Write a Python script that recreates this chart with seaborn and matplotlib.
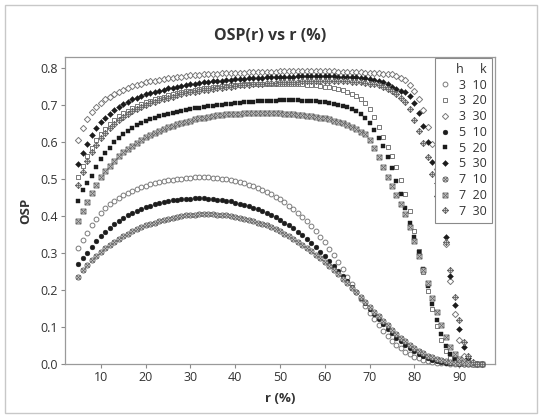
import pandas as pd
import matplotlib
matplotlib.use('Agg')
import matplotlib.pyplot as plt
import seaborn as sns
from matplotlib.path import Path
from matplotlib.lines import Line2D
from matplotlib.patches import Rectangle

sns.set_style('white')
plt.rcParams['font.family'] = ['Open Sans', 'DejaVu Sans']

# r (%) from 5 to 95
r = list(range(5, 96))

# OSP values, one list per (h, k)
osp_h3_k10 = [0.313, 0.335, 0.354, 0.376, 0.393, 0.408, 0.421, 0.432, 0.442, 0.450,
              0.457, 0.463, 0.469, 0.474, 0.479, 0.483, 0.487, 0.490, 0.493, 0.495,
              0.497, 0.499, 0.501, 0.502, 0.503, 0.504, 0.505, 0.505, 0.505, 0.505,
              0.504, 0.503, 0.502, 0.500, 0.498, 0.495, 0.492, 0.489, 0.485, 0.481,
              0.477, 0.472, 0.466, 0.460, 0.453, 0.446, 0.438, 0.429, 0.420, 0.410,
              0.399, 0.387, 0.374, 0.360, 0.345, 0.329, 0.312, 0.294, 0.275, 0.256,
              0.236, 0.216, 0.196, 0.176, 0.157, 0.139, 0.121, 0.105, 0.090, 0.076,
              0.063, 0.052, 0.042, 0.033, 0.026, 0.020, 0.015, 0.011, 0.008, 0.006,
              0.004, 0.003, 0.002, 0.001, 0.001, 0.001, 0.000, 0.000, 0.000, 0.000,
              0.000]
osp_h3_k20 = [0.507, 0.537, 0.562, 0.585, 0.605, 0.623, 0.637, 0.650, 0.661, 0.670,
              0.679, 0.686, 0.693, 0.699, 0.704, 0.709, 0.713, 0.717, 0.721, 0.724,
              0.727, 0.730, 0.733, 0.736, 0.738, 0.740, 0.742, 0.744, 0.746, 0.748,
              0.749, 0.750, 0.752, 0.753, 0.754, 0.755, 0.756, 0.757, 0.757, 0.758,
              0.758, 0.759, 0.759, 0.759, 0.759, 0.759, 0.759, 0.758, 0.758, 0.757,
              0.757, 0.756, 0.755, 0.754, 0.753, 0.751, 0.749, 0.747, 0.744, 0.741,
              0.737, 0.732, 0.726, 0.718, 0.706, 0.690, 0.668, 0.642, 0.614, 0.588,
              0.562, 0.532, 0.498, 0.460, 0.413, 0.360, 0.305, 0.250, 0.198, 0.150,
              0.104, 0.064, 0.035, 0.017, 0.007, 0.003, 0.001, 0.000, 0.000, 0.000,
              0.000]
osp_h3_k30 = [0.606, 0.639, 0.663, 0.681, 0.695, 0.706, 0.716, 0.724, 0.731, 0.737,
              0.743, 0.748, 0.752, 0.756, 0.759, 0.762, 0.765, 0.767, 0.769, 0.771,
              0.773, 0.775, 0.776, 0.778, 0.779, 0.781, 0.782, 0.783, 0.784, 0.785,
              0.785, 0.786, 0.787, 0.787, 0.788, 0.788, 0.789, 0.789, 0.790, 0.790,
              0.790, 0.791, 0.791, 0.791, 0.791, 0.792, 0.792, 0.792, 0.792, 0.792,
              0.792, 0.792, 0.792, 0.792, 0.792, 0.792, 0.792, 0.792, 0.791, 0.791,
              0.791, 0.791, 0.790, 0.790, 0.789, 0.788, 0.788, 0.787, 0.786, 0.785,
              0.784, 0.780, 0.775, 0.768, 0.756, 0.738, 0.716, 0.688, 0.642, 0.596,
              0.527, 0.430, 0.325, 0.225, 0.134, 0.065, 0.022, 0.007, 0.002, 0.001,
              0.000]
osp_h5_k10 = [0.271, 0.286, 0.301, 0.318, 0.332, 0.346, 0.358, 0.369, 0.379, 0.388,
              0.396, 0.403, 0.409, 0.415, 0.420, 0.425, 0.429, 0.433, 0.436, 0.439,
              0.441, 0.443, 0.445, 0.446, 0.447, 0.447, 0.448, 0.448, 0.448, 0.447,
              0.446, 0.445, 0.444, 0.442, 0.440, 0.437, 0.434, 0.431, 0.427, 0.423,
              0.419, 0.414, 0.409, 0.403, 0.397, 0.390, 0.383, 0.375, 0.367, 0.358,
              0.348, 0.338, 0.327, 0.316, 0.304, 0.292, 0.279, 0.266, 0.252, 0.238,
              0.224, 0.209, 0.194, 0.179, 0.164, 0.149, 0.135, 0.121, 0.108, 0.095,
              0.083, 0.071, 0.061, 0.051, 0.042, 0.034, 0.027, 0.021, 0.016, 0.012,
              0.009, 0.006, 0.004, 0.003, 0.002, 0.001, 0.001, 0.000, 0.000, 0.000,
              0.000]
osp_h5_k20 = [0.440, 0.470, 0.489, 0.510, 0.533, 0.555, 0.572, 0.586, 0.600, 0.612,
              0.622, 0.631, 0.639, 0.646, 0.652, 0.657, 0.662, 0.666, 0.670, 0.674,
              0.677, 0.680, 0.683, 0.686, 0.688, 0.690, 0.692, 0.694, 0.696, 0.698,
              0.699, 0.701, 0.702, 0.704, 0.705, 0.706, 0.707, 0.708, 0.709, 0.710,
              0.711, 0.712, 0.712, 0.713, 0.713, 0.714, 0.714, 0.714, 0.714, 0.714,
              0.713, 0.713, 0.712, 0.711, 0.710, 0.709, 0.707, 0.705, 0.702, 0.699,
              0.695, 0.690, 0.684, 0.676, 0.666, 0.652, 0.634, 0.613, 0.589, 0.561,
              0.530, 0.496, 0.460, 0.422, 0.383, 0.343, 0.302, 0.258, 0.210, 0.162,
              0.118, 0.080, 0.050, 0.028, 0.014, 0.006, 0.002, 0.001, 0.000, 0.000,
              0.000]
osp_h5_k30 = [0.541, 0.571, 0.595, 0.620, 0.638, 0.654, 0.667, 0.678, 0.687, 0.696,
              0.703, 0.710, 0.716, 0.721, 0.726, 0.730, 0.734, 0.737, 0.740, 0.743,
              0.746, 0.748, 0.751, 0.753, 0.755, 0.757, 0.759, 0.760, 0.762, 0.764,
              0.765, 0.766, 0.767, 0.769, 0.770, 0.771, 0.772, 0.772, 0.773, 0.774,
              0.775, 0.775, 0.776, 0.776, 0.777, 0.777, 0.778, 0.778, 0.778, 0.779,
              0.779, 0.779, 0.779, 0.779, 0.779, 0.779, 0.779, 0.779, 0.778, 0.778,
              0.777, 0.777, 0.776, 0.775, 0.773, 0.771, 0.769, 0.766, 0.762, 0.757,
              0.751, 0.745, 0.738, 0.735, 0.725, 0.707, 0.680, 0.643, 0.601, 0.548,
              0.489, 0.420, 0.344, 0.238, 0.160, 0.094, 0.047, 0.016, 0.004, 0.001,
              0.000]
osp_h7_k10 = [0.236, 0.254, 0.268, 0.281, 0.292, 0.303, 0.313, 0.322, 0.331, 0.339,
              0.346, 0.353, 0.359, 0.365, 0.370, 0.375, 0.379, 0.383, 0.387, 0.390,
              0.393, 0.396, 0.398, 0.400, 0.402, 0.403, 0.404, 0.405, 0.405, 0.405,
              0.405, 0.404, 0.403, 0.402, 0.400, 0.398, 0.396, 0.393, 0.390, 0.387,
              0.383, 0.379, 0.375, 0.370, 0.365, 0.359, 0.353, 0.346, 0.339, 0.331,
              0.323, 0.314, 0.305, 0.296, 0.286, 0.276, 0.265, 0.254, 0.243, 0.231,
              0.219, 0.207, 0.194, 0.181, 0.168, 0.155, 0.142, 0.129, 0.117, 0.105,
              0.093, 0.082, 0.071, 0.061, 0.052, 0.043, 0.036, 0.029, 0.023, 0.018,
              0.014, 0.010, 0.007, 0.005, 0.003, 0.002, 0.001, 0.001, 0.000, 0.000,
              0.000]
osp_h7_k20 = [0.386, 0.414, 0.438, 0.462, 0.485, 0.505, 0.522, 0.537, 0.550, 0.562,
              0.573, 0.582, 0.591, 0.599, 0.607, 0.614, 0.620, 0.626, 0.631, 0.636,
              0.641, 0.645, 0.649, 0.653, 0.656, 0.659, 0.662, 0.665, 0.667, 0.669,
              0.671, 0.673, 0.674, 0.676, 0.677, 0.678, 0.678, 0.679, 0.679, 0.680,
              0.680, 0.680, 0.680, 0.680, 0.679, 0.679, 0.678, 0.677, 0.676, 0.675,
              0.674, 0.672, 0.671, 0.669, 0.667, 0.665, 0.662, 0.659, 0.655, 0.651,
              0.646, 0.641, 0.635, 0.628, 0.622, 0.606, 0.585, 0.560, 0.533, 0.506,
              0.481, 0.457, 0.432, 0.405, 0.370, 0.332, 0.293, 0.255, 0.218, 0.178,
              0.142, 0.106, 0.074, 0.047, 0.027, 0.014, 0.006, 0.002, 0.001, 0.000,
              0.000]
osp_h7_k30 = [0.484, 0.520, 0.549, 0.574, 0.594, 0.611, 0.626, 0.639, 0.650, 0.660,
              0.669, 0.677, 0.684, 0.690, 0.696, 0.701, 0.706, 0.710, 0.714, 0.718,
              0.721, 0.724, 0.727, 0.730, 0.733, 0.735, 0.737, 0.739, 0.741, 0.743,
              0.745, 0.747, 0.748, 0.750, 0.751, 0.753, 0.754, 0.755, 0.756, 0.757,
              0.758, 0.759, 0.760, 0.761, 0.761, 0.762, 0.763, 0.763, 0.764, 0.764,
              0.765, 0.765, 0.765, 0.766, 0.766, 0.766, 0.766, 0.766, 0.766, 0.765,
              0.765, 0.764, 0.763, 0.762, 0.761, 0.759, 0.757, 0.754, 0.750, 0.745,
              0.739, 0.731, 0.721, 0.708, 0.690, 0.660, 0.632, 0.598, 0.561, 0.515,
              0.455, 0.390, 0.330, 0.254, 0.182, 0.119, 0.060, 0.022, 0.006, 0.001,
              0.000]

h_vals = ['3', '3', '3', '5', '5', '5', '7', '7', '7']
k_vals = ['10', '20', '30', '10', '20', '30', '10', '20', '30']
osp_all = [osp_h3_k10, osp_h3_k20, osp_h3_k30,
           osp_h5_k10, osp_h5_k20, osp_h5_k30,
           osp_h7_k10, osp_h7_k20, osp_h7_k30]

rows = []
for h, k, vals in zip(h_vals, k_vals, osp_all):
    for x, y in zip(r, vals):
        rows.append({'r': x, 'OSP': y, 'h': h, 'k': k})
df = pd.DataFrame(rows)

# minitab-ish symbols: circle / square / diamond, with X or + for h = 7
diag = [Path([(-0.7, -0.7), (0.7, 0.7)]), Path([(-0.7, 0.7), (0.7, -0.7)])]
circle_x = Path.make_compound_path(Path.unit_circle(), *diag)
square = Path([(-1, -1), (1, -1), (1, 1), (-1, 1), (-1, -1)], [1, 2, 2, 2, 79])
square_x = Path.make_compound_path(square, Path([(-1, -1), (1, 1)]), Path([(-1, 1), (1, -1)]))
diamond = Path([(0, -1), (1, 0), (0, 1), (-1, 0), (0, -1)], [1, 2, 2, 2, 79])
diamond_p = Path.make_compound_path(diamond, Path([(-1, 0), (1, 0)]), Path([(0, -1), (0, 1)]))

grey = '#7a7a7a'
dark = '#1c1c1c'
hatch = '#666666'
styles = {
    ('3', '10'): dict(marker='o', s=12, fc='white', ec=grey, lw=0.7),
    ('3', '20'): dict(marker='s', s=10, fc='white', ec=grey, lw=0.7),
    ('3', '30'): dict(marker='D', s=10, fc='white', ec=grey, lw=0.7),
    ('5', '10'): dict(marker='o', s=12, fc=dark, ec=dark, lw=0.3),
    ('5', '20'): dict(marker='s', s=9, fc=dark, ec=dark, lw=0.3),
    ('5', '30'): dict(marker='D', s=9, fc=dark, ec=dark, lw=0.3),
    ('7', '10'): dict(marker=circle_x, s=14, fc='#dcdcdc', ec=hatch, lw=0.6),
    ('7', '20'): dict(marker=square_x, s=13, fc='#dcdcdc', ec=hatch, lw=0.6),
    ('7', '30'): dict(marker=diamond_p, s=19, fc='#dcdcdc', ec=hatch, lw=0.6),
}

fig = plt.figure(figsize=(5.43, 4.18), dpi=100)
ax = fig.add_axes([65 / 543, 1 - 364 / 418, 430 / 543, 307 / 418])

handles = []
labels = []
for h, k in zip(h_vals, k_vals):
    st = styles[(h, k)]
    sub = df[(df['h'] == h) & (df['k'] == k)]
    sns.scatterplot(data=sub, x='r', y='OSP', marker=st['marker'], s=st['s'],
                    color=st['fc'], edgecolor=st['ec'], linewidth=st['lw'],
                    ax=ax, legend=False, clip_on=False, zorder=3)
    handles.append(Line2D([], [], linestyle='None', marker=st['marker'],
                          markersize=st['s'] ** 0.5, markerfacecolor=st['fc'],
                          markeredgecolor=st['ec'], markeredgewidth=st['lw']))
    labels.append(h + '  ' + k)

ax.set_xlim(2, 98)
ax.set_ylim(0, 0.831)
ax.set_xticks([10, 20, 30, 40, 50, 60, 70, 80, 90])
ax.set_yticks([0.0, 0.1, 0.2, 0.3, 0.4, 0.5, 0.6, 0.7, 0.8])
ax.set_yticklabels(['%.1f' % v for v in ax.get_yticks()])
ax.tick_params(axis='both', direction='out', length=3, width=0.8, color='#8a8a8a',
               labelsize=9, labelcolor='#333333', pad=2, left=True, bottom=True)
for sp in ax.spines.values():
    sp.set_color('#9a9a9a')
    sp.set_linewidth(0.9)
ax.set_xlabel('r (%)', fontsize=9.5, fontweight='bold', color='#333333', labelpad=6)
ax.set_ylabel('OSP', fontsize=9.5, fontweight='bold', color='#333333', labelpad=6)

fig.text(270 / 543, 1 - 36 / 418, 'OSP(r) vs r (%)', ha='center', va='center',
         fontsize=11.5, fontweight='bold', color='#333333')

leg = ax.legend(handles, labels, title='h     k', loc='upper right',
                bbox_to_anchor=(0.993, 0.997), borderaxespad=0, frameon=True,
                fancybox=False, edgecolor='#8a8a8a', framealpha=1, fontsize=9,
                title_fontsize=9, labelspacing=0.22, handlelength=0.8,
                handletextpad=0.7, borderpad=0.4, alignment='right')
leg.get_frame().set_linewidth(0.8)
for t in leg.get_texts():
    t.set_color('#333333')
leg.get_title().set_color('#333333')
leg.set_zorder(5)

fig.add_artist(Rectangle((5 / 543, 5 / 418), 532 / 543, 408 / 418, transform=fig.transFigure,
                         fill=False, edgecolor='#c8c8c8', linewidth=1.0))

fig.savefig('out.png', dpi=100)
